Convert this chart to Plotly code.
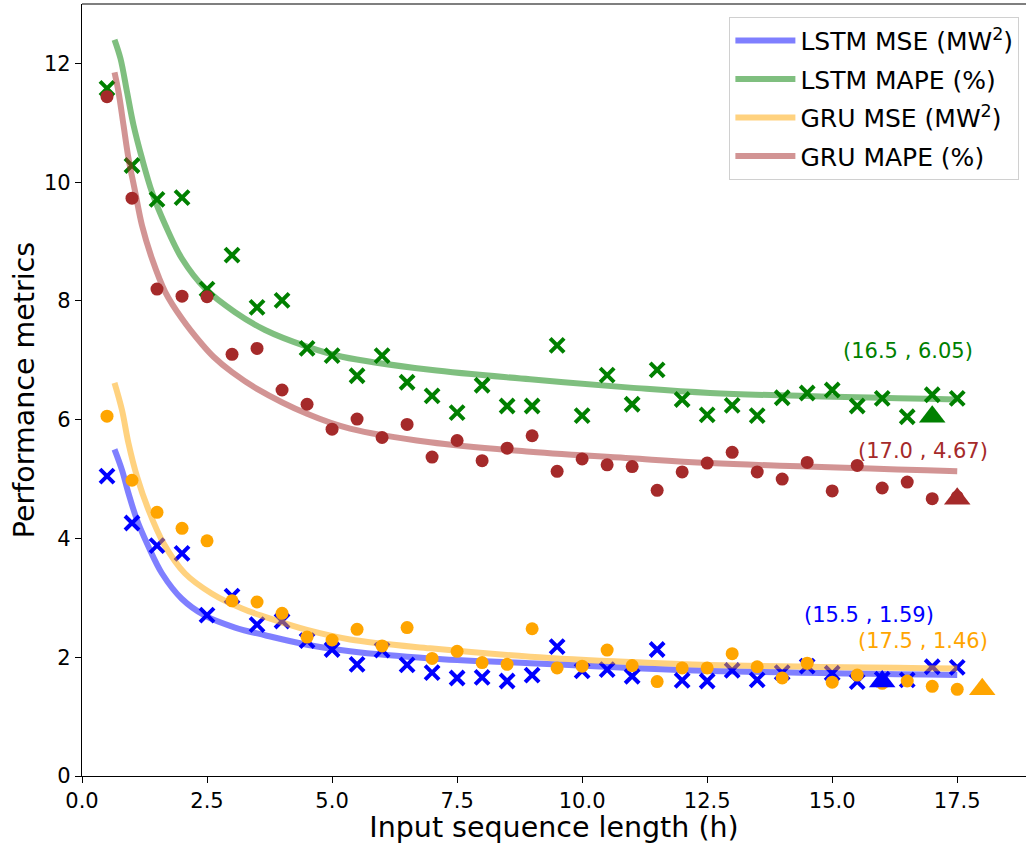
import numpy as np
import plotly.graph_objects as go

# Input sequence lengths (hours)
seq_len = [0.5, 1.0, 1.5, 2.0, 2.5, 3.0, 3.5, 4.0, 4.5, 5.0, 5.5, 6.0, 6.5, 7.0, 7.5,
           8.0, 8.5, 9.0, 9.5, 10.0, 10.5, 11.0, 11.5, 12.0, 12.5, 13.0, 13.5, 14.0,
           14.5, 15.0, 15.5, 16.0, 16.5, 17.0, 17.5]

lstm_mse = [5.05, 4.26, 3.88, 3.75, 2.71, 3.03, 2.55, 2.61, 2.28, 2.13, 1.88, 2.12,
            1.87, 1.74, 1.65, 1.66, 1.60, 1.70, 2.18, 1.77, 1.79, 1.68, 2.13, 1.61,
            1.60, 1.78, 1.62, 1.74, 1.85, 1.73, 1.59, 1.63, 1.62, 1.84, 1.83]
lstm_mape = [11.58, 10.28, 9.71, 9.74, 8.20, 8.77, 7.89, 8.01, 7.20, 7.08, 6.74, 7.08,
             6.63, 6.40, 6.12, 6.58, 6.23, 6.23, 7.25, 6.07, 6.75, 6.26, 6.84, 6.34,
             6.08, 6.24, 6.07, 6.37, 6.45, 6.50, 6.23, 6.36, 6.05, 6.42, 6.36]
gru_mse = [6.06, 4.98, 4.44, 4.17, 3.96, 2.95, 2.93, 2.74, 2.34, 2.29, 2.47, 2.19,
           2.50, 1.98, 2.10, 1.91, 1.88, 2.48, 1.82, 1.85, 2.12, 1.86, 1.59, 1.82,
           1.82, 2.06, 1.84, 1.65, 1.90, 1.58, 1.70, 1.56, 1.60, 1.51, 1.46]
gru_mape = [11.44, 9.73, 8.20, 8.08, 8.07, 7.10, 7.20, 6.50, 6.26, 5.84, 6.01, 5.70,
            5.92, 5.37, 5.65, 5.31, 5.52, 5.73, 5.13, 5.34, 5.24, 5.21, 4.81, 5.12,
            5.27, 5.45, 5.12, 5.00, 5.28, 4.80, 5.23, 4.85, 4.95, 4.67, 4.70]

# Fitted trend curves (x, y)
fit_lstm_mse_x = [0.65, 0.80, 0.93, 1.10, 1.33, 1.60, 2.00, 2.46, 3.06, 3.66, 4.50, 5.36, 6.96, 8.96, 10.96, 12.56, 17.50]
fit_lstm_mse_y = [5.50, 5.15, 4.76, 4.31, 3.86, 3.41, 2.98, 2.70, 2.50, 2.37, 2.21, 2.10, 1.98, 1.90, 1.82, 1.77, 1.70]
fit_lstm_mape_x = [0.65, 0.77, 0.90, 1.03, 1.20, 1.40, 1.67, 2.00, 2.46, 3.06, 3.66, 4.50, 5.20, 6.96, 8.96, 10.96, 12.56, 17.50]
fit_lstm_mape_y = [12.40, 12.08, 11.52, 10.96, 10.40, 9.83, 9.27, 8.71, 8.21, 7.81, 7.51, 7.23, 7.06, 6.84, 6.68, 6.54, 6.45, 6.34]
fit_gru_mse_x = [0.65, 0.80, 0.93, 1.10, 1.33, 1.63, 2.06, 2.60, 3.20, 3.66, 4.50, 5.36, 6.96, 8.96, 10.96, 12.56, 17.50]
fit_gru_mse_y = [6.62, 6.16, 5.60, 5.04, 4.48, 3.92, 3.41, 3.07, 2.82, 2.68, 2.46, 2.30, 2.15, 2.01, 1.92, 1.87, 1.81]
fit_gru_mape_x = [0.65, 0.73, 0.83, 0.93, 1.065, 1.20, 1.40, 1.665, 2.00, 2.40, 2.63, 3.00, 3.50, 4.50, 5.36, 6.96, 8.96, 10.96, 12.56, 17.50]
fit_gru_mape_y = [11.85, 11.52, 10.96, 10.40, 9.83, 9.27, 8.71, 8.15, 7.70, 7.27, 7.06, 6.80, 6.52, 6.10, 5.85, 5.62, 5.46, 5.35, 5.27, 5.13]

series = [
    dict(name="LSTM MSE (MW<sup>2</sup>)", y=lstm_mse, fx=fit_lstm_mse_x, fy=fit_lstm_mse_y,
         color="#0000ff", fade="rgba(0,0,255,0.5)", symbol="x", lbl=(0.23, 1.12)),
    dict(name="LSTM MAPE (%)", y=lstm_mape, fx=fit_lstm_mape_x, fy=fit_lstm_mape_y,
         color="#008000", fade="rgba(0,128,0,0.5)", symbol="x", lbl=(0.02, 1.11)),
    dict(name="GRU MSE (MW<sup>2</sup>)", y=gru_mse, fx=fit_gru_mse_x, fy=fit_gru_mse_y,
         color="#ffa500", fade="rgba(255,165,0,0.5)", symbol="circle", lbl=(-0.68, 0.82)),
    dict(name="GRU MAPE (%)", y=gru_mape, fx=fit_gru_mape_x, fy=fit_gru_mape_y,
         color="#a52a2a", fade="rgba(165,42,42,0.5)", symbol="circle", lbl=(-0.18, 0.80)),
]

fig = go.Figure()

for k, s in enumerate(series):
    if s["symbol"] == "circle":
        marker = dict(symbol="circle", size=13, color=s["color"], line=dict(width=0))
    else:
        marker = dict(symbol="x-thin-open", size=14, color=s["color"],
                      line=dict(width=4, color=s["color"]))
    fig.add_trace(go.Scatter(x=seq_len, y=s["y"], mode="markers", marker=marker,
                             showlegend=False, hoverinfo="skip", legendgroup=f"g{k}"))
    fig.add_trace(go.Scatter(x=s["fx"], y=s["fy"], mode="lines", name=s["name"],
                             legendgroup=f"g{k}",
                             line=dict(color=s["fade"], width=6, shape="spline", smoothing=1.0)))

# Best configuration of each metric: triangle marker plus coordinate label
annotations = []
for k, s in enumerate(series):
    i = int(np.argmin(s["y"]))
    bx, by = seq_len[i], s["y"][i]
    fig.add_trace(go.Scatter(x=[bx + 0.5], y=[by], mode="markers", showlegend=False,
                             legendgroup=f"g{k}",
                             marker=dict(symbol="triangle-up", size=23, color=s["color"],
                                         line=dict(width=0)),
                             hoverinfo="skip"))
    dx, dy = s["lbl"]
    annotations.append(dict(x=bx + dx, y=by + dy, xref="x", yref="y",
                            text=f"({bx:.1f} , {by:.2f})", showarrow=False,
                            xanchor="center", yanchor="middle",
                            font=dict(size=21, color=s["color"], family="DejaVu Sans")))

fig.update_layout(
    width=1027, height=844,
    margin=dict(l=82, r=1, t=4, b=68),
    paper_bgcolor="white", plot_bgcolor="white",
    font=dict(family="DejaVu Sans", color="black"),
    annotations=annotations,
    shapes=[dict(type="line", xref="paper", yref="paper", x0=0, x1=1, y0=1, y1=1,
                 line=dict(color="#555555", width=1.3))],
    legend=dict(x=0.993, y=0.9835, xanchor="right", yanchor="top",
                bgcolor="rgba(255,255,255,0.8)", bordercolor="#d0d0d0", borderwidth=1,
                font=dict(size=25, family="DejaVu Sans"), itemwidth=60,
                traceorder="grouped", tracegroupgap=3),
)

fig.update_xaxes(range=[0, 18.875], tickvals=[0, 2.5, 5, 7.5, 10, 12.5, 15, 17.5],
                 ticktext=["0.0", "2.5", "5.0", "7.5", "10.0", "12.5", "15.0", "17.5"],
                 ticks="outside", ticklen=6, tickwidth=1.2, tickcolor="black",
                 showline=True, linecolor="black", linewidth=1.3, showgrid=False,
                 zeroline=False, tickfont=dict(size=21),
                 title=dict(text="Input sequence length (h)", font=dict(size=28.5), standoff=0))
fig.update_yaxes(range=[0, 13.0], tickvals=[0, 2, 4, 6, 8, 10, 12],
                 ticks="outside", ticklen=6, tickwidth=1.2, tickcolor="black",
                 showline=True, linecolor="black", linewidth=1.3, showgrid=False,
                 zeroline=False, tickfont=dict(size=21),
                 title=dict(text="Performance metrics", font=dict(size=28.5), standoff=0))

fig.write_html("out.html")
